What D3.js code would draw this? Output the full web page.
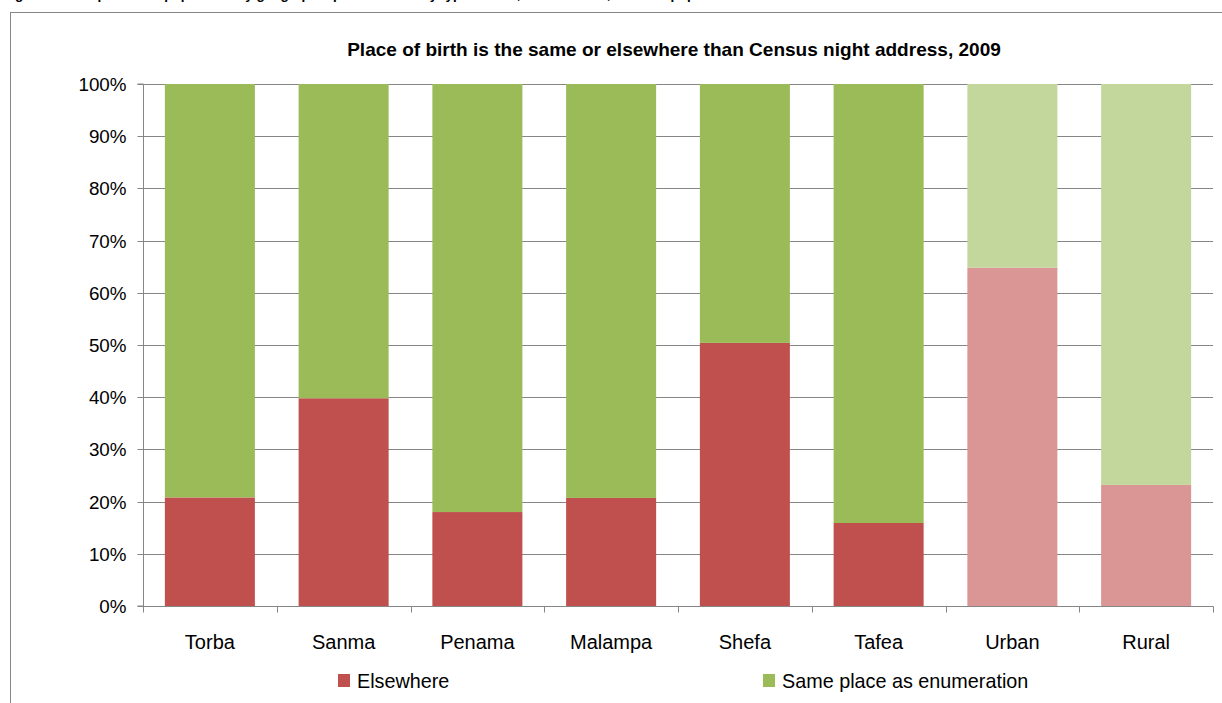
<!DOCTYPE html>
<html><head><meta charset="utf-8">
<script src="https://cdn.jsdelivr.net/npm/d3@7"></script>
<style>
html,body{margin:0;padding:0;background:#fff;overflow:hidden}
text{font-family:"Liberation Sans",Arial,sans-serif;fill:#000}
</style></head>
<body><svg id="c" width="1222" height="703"></svg>
<script>
const categories = ["Torba","Sanma","Penama","Malampa","Shefa","Tafea","Urban","Rural"];
const elsewhere = [20.8, 39.8, 18.0, 20.7, 50.4, 15.9, 64.8, 23.2];
const samePlace = elsewhere.map(v => 100 - v);
const seriesNames = ["Elsewhere","Same place as enumeration"];
const yTicks = [0,10,20,30,40,50,60,70,80,90,100];
const chartTitle = "Place of birth is the same or elsewhere than Census night address, 2009";
const caption = "Figure 3.2: Proportion of population by geographic place of birth by type of area, 2009 Census, Vanuatu population";

const colors = {Elsewhere:"#C0504D", Same:"#9BBB59", ElsewhereLight:"#D99694", SameLight:"#C3D69B"};
const lightCats = ["Urban","Rural"];

const svg = d3.select("#c");
const m = {left:143, right:1213, top:84, bottom:606};

// caption cut off at top (as in the reference)
svg.append("text").attr("x",3).attr("y",-1).attr("font-weight","bold").attr("font-size",13.5).text(caption);

// outer chart border
svg.append("rect").attr("x",10.5).attr("y",12.5).attr("width",1240).attr("height",720)
  .attr("fill","none").attr("stroke","#868686").attr("stroke-width",1);

const x = d3.scaleBand().domain(categories).range([m.left, m.right]).paddingInner(0.327).paddingOuter(0.1635);
const y = d3.scaleLinear().domain([0,100]).range([m.bottom, m.top]);

// gridlines
svg.append("g").selectAll("line").data(yTicks.filter(d=>d>0)).join("line")
  .attr("x1",m.left).attr("x2",m.right)
  .attr("y1",d=>Math.round(y(d))+0.5).attr("y2",d=>Math.round(y(d))+0.5)
  .attr("stroke","#868686").attr("stroke-width",1);

// bars
const stackData = categories.map((c,i)=>({cat:c, e:elsewhere[i], s:samePlace[i]}));
const g = svg.append("g");
stackData.forEach(d=>{
  const light = lightCats.includes(d.cat);
  g.append("rect").attr("x",x(d.cat)).attr("width",x.bandwidth())
    .attr("y",y(d.e)).attr("height",y(0)-y(d.e))
    .attr("fill", light?colors.ElsewhereLight:colors.Elsewhere);
  g.append("rect").attr("x",x(d.cat)).attr("width",x.bandwidth())
    .attr("y",y(100)).attr("height",y(d.e)-y(100))
    .attr("fill", light?colors.SameLight:colors.Same);
});

// y axis
const yAxis = d3.axisLeft(y).tickValues(yTicks).tickFormat(d=>d+"%").tickSize(6).tickPadding(11);
const ya = svg.append("g").attr("transform",`translate(${m.left+0.5},0)`).call(yAxis);
ya.select(".domain").attr("stroke","#868686").attr("d",`M-6,${m.top}H0V${m.bottom}H-6`);
ya.selectAll(".tick line").attr("stroke","#868686");
ya.selectAll(".tick").attr("transform",d=>`translate(0,${Math.round(y(d))+0.5})`);
ya.selectAll("text").attr("font-size",18.8).attr("font-family","'Liberation Sans',Arial,sans-serif").attr("fill","#000").attr("dy","0.35em");

// x axis
const xa = svg.append("g").attr("transform",`translate(0,${m.bottom+0.5})`);
xa.append("line").attr("x1",m.left).attr("x2",m.right+0.5).attr("stroke","#868686");
const bounds = d3.range(categories.length+1).map(i=>m.left + i*(m.right-m.left)/categories.length);
xa.selectAll("line.t").data(bounds).join("line").attr("class","t")
  .attr("x1",d=>Math.round(d)+0.5).attr("x2",d=>Math.round(d)+0.5).attr("y1",0).attr("y2",6).attr("stroke","#868686");
xa.selectAll("text").data(categories).join("text")
  .attr("x",d=>x(d)+x.bandwidth()/2).attr("y",42).attr("text-anchor","middle").attr("font-size",20).text(d=>d);

// title
const t = svg.append("text").attr("x",674).attr("y",56).attr("text-anchor","middle")
  .attr("font-weight","bold").attr("font-size",16).text(chartTitle);
const tw = t.node().getComputedTextLength();
t.attr("font-size", 16*654/tw);

// legend
const legend = [{name:seriesNames[0], col:colors.Elsewhere, sx:338, tx:357},
                {name:seriesNames[1], col:colors.Same, sx:763, tx:782}];
const lg = svg.append("g");
legend.forEach(l=>{
  lg.append("rect").attr("x",l.sx).attr("y",674).attr("width",12).attr("height",13).attr("fill",l.col);
  lg.append("text").attr("x",l.tx).attr("y",688).attr("font-size",19.8).text(l.name);
});
</script></body></html>
